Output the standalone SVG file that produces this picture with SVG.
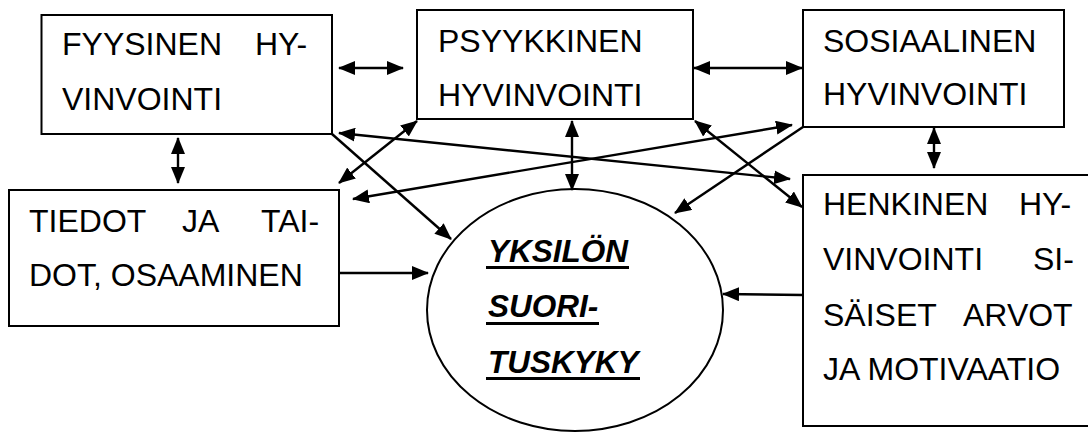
<svg xmlns="http://www.w3.org/2000/svg" width="1088" height="432" viewBox="0 0 1088 432">
  <style>
    .box { fill: #fff; stroke: #000; stroke-width: 2; }
    .lbl { font-family: "Liberation Sans", Arial, sans-serif; font-size: 32px; fill: #000; }
    .core { font-family: "Liberation Sans", Arial, sans-serif; font-size: 31.5px; font-weight: bold; font-style: italic; fill: #000; }
    .rule { fill: #000; }
    .link { stroke: #000; stroke-width: 2.4; fill: none; }
    .one { marker-end: url(#head); }
    .two { marker-start: url(#head); marker-end: url(#head); }
  </style>
  <defs>
    <marker id="head" viewBox="0 0 17 14" refX="16" refY="7" markerWidth="17" markerHeight="14" markerUnits="userSpaceOnUse" orient="auto-start-reverse">
      <path d="M0,0 L17,7 L0,14 z" fill="#000"/>
    </marker>
  </defs>

  <rect width="1088" height="432" fill="#fff"/>

  <g id="fyysinen">
    <rect class="box" x="41.5" y="15" width="290.5" height="119"/>
    <text class="lbl" x="62" y="55">FYYSINEN</text>
    <text class="lbl" x="255" y="55">HY-</text>
    <text class="lbl" x="62" y="110">VINVOINTI</text>
  </g>

  <g id="psyykkinen">
    <rect class="box" x="417" y="10" width="276" height="109"/>
    <text class="lbl" x="438" y="52">PSYYKKINEN</text>
    <text class="lbl" x="438" y="106">HYVINVOINTI</text>
  </g>

  <g id="sosiaalinen">
    <rect class="box" x="803" y="10" width="261" height="117"/>
    <text class="lbl" x="823" y="52">SOSIAALINEN</text>
    <text class="lbl" x="823" y="105">HYVINVOINTI</text>
  </g>

  <g id="tiedot">
    <rect class="box" x="9" y="190" width="330" height="136"/>
    <text class="lbl" x="29" y="232">TIEDOT</text>
    <text class="lbl" x="182" y="232">JA</text>
    <text class="lbl" x="261" y="232">TAI-</text>
    <text class="lbl" x="29" y="286">DOT, OSAAMINEN</text>
  </g>

  <g id="henkinen">
    <rect class="box" x="803" y="175" width="300" height="251"/>
    <text class="lbl" x="823" y="215">HENKINEN</text>
    <text class="lbl" x="1019" y="215">HY-</text>
    <text class="lbl" x="823" y="270">VINVOINTI</text>
    <text class="lbl" x="1033" y="270">SI-</text>
    <text class="lbl" x="823" y="326">SÄISET</text>
    <text class="lbl" x="963" y="326">ARVOT</text>
    <text class="lbl" x="823" y="380">JA MOTIVAATIO</text>
  </g>

  <g id="suorituskyky">
    <ellipse cx="575" cy="310" rx="148" ry="121" fill="#fff" stroke="#000" stroke-width="2"/>
    <text class="core" x="488" y="262">YKSILÖN</text>
    <rect class="rule" x="486" y="266" width="143" height="3"/>
    <text class="core" x="488" y="317">SUORI-</text>
    <rect class="rule" x="486" y="322" width="113" height="3"/>
    <text class="core" x="488" y="373">TUSKYKY</text>
    <rect class="rule" x="486" y="377" width="154" height="3"/>
  </g>

  <g id="connectors">
    <!-- links between the wellbeing boxes -->
    <line class="link two" x1="339" y1="68" x2="403" y2="68"/>
    <line class="link two" x1="694" y1="68" x2="802" y2="68"/>
    <line class="link two" x1="178" y1="138" x2="178" y2="183"/>
    <line class="link two" x1="934" y1="128" x2="934" y2="168"/>
    <line class="link two" x1="572" y1="121" x2="572" y2="190"/>
    <line class="link two" x1="417" y1="121" x2="339" y2="183"/>
    <line class="link two" x1="339" y1="133" x2="790" y2="179"/>
    <line class="link two" x1="792" y1="125" x2="353" y2="199"/>
    <line class="link two" x1="695" y1="121" x2="802" y2="207"/>
    <!-- links into the performance ellipse -->
    <line class="link one" x1="332" y1="134" x2="451" y2="239"/>
    <line class="link one" x1="803" y1="127" x2="675" y2="213"/>
    <line class="link one" x1="339" y1="273" x2="428" y2="273"/>
    <line class="link one" x1="803" y1="295" x2="723" y2="294"/>
  </g>
</svg>
